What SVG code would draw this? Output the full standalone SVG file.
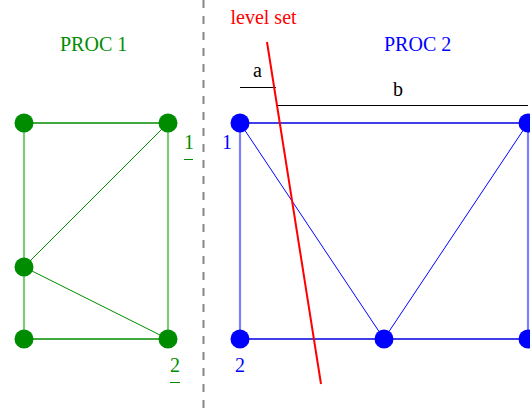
<svg xmlns="http://www.w3.org/2000/svg" width="530" height="412" viewBox="0 0 530 412">
<style>
text{font-family:"Liberation Serif","Times New Roman",serif;font-size:20px}
.g{fill:#008c00}
.b{fill:#0000ff}
.k{fill:#000}
.r{fill:#ff0000}
.gh{stroke:#008c00;stroke-width:1.3}
.gv{stroke:#7ccc7c;stroke-width:2.2}
.gd{stroke:#008c00;stroke-width:1}
.bh{stroke:#0000e0;stroke-width:1.5}
.bv{stroke:#7f7fff;stroke-width:2.2}
.bd{stroke:#0000ff;stroke-width:1}
.ng{fill:#008c00}
.nb{fill:#0000ff}
</style>
<rect width="530" height="412" fill="#fff"/>
<line x1="203.5" y1="0" x2="203.5" y2="412" stroke="#888" stroke-width="2" stroke-dasharray="8,8"/>
<g id="connectors" fill="none">
<line class="gh" x1="24" y1="123" x2="168" y2="123"/>
<line class="gh" x1="24" y1="339" x2="168" y2="339"/>
<line class="gv" x1="24" y1="123" x2="24" y2="339"/>
<line class="gv" x1="168" y1="123" x2="168" y2="339"/>
<line class="gd" x1="24" y1="267" x2="168" y2="123"/>
<line class="gd" x1="24" y1="267" x2="168" y2="339"/>
<line class="bh" x1="240" y1="123" x2="528" y2="123"/>
<line class="bh" x1="240" y1="339" x2="528" y2="339"/>
<line class="bv" x1="240" y1="123" x2="240" y2="339"/>
<line class="bv" x1="528" y1="123" x2="528" y2="339"/>
<line class="bd" x1="240" y1="123" x2="384" y2="339"/>
<line class="bd" x1="384" y1="339" x2="528" y2="123"/>
</g>
<g id="n1"><circle class="ng" cx="24" cy="123" r="9.5"/></g>
<g id="n2"><circle class="ng" cx="168" cy="123" r="9.5"/></g>
<g id="n3"><circle class="ng" cx="24" cy="267" r="9.5"/></g>
<g id="n4"><circle class="ng" cx="24" cy="339" r="9.5"/></g>
<g id="n5"><circle class="ng" cx="168" cy="339" r="9.5"/></g>
<g id="n6"><circle class="nb" cx="240" cy="123" r="9.5"/></g>
<g id="n7"><circle class="nb" cx="528" cy="123" r="9.5"/></g>
<g id="n8"><circle class="nb" cx="240" cy="339" r="9.5"/></g>
<g id="n9"><circle class="nb" cx="384" cy="339" r="9.5"/></g>
<g id="n10"><circle class="nb" cx="528" cy="339" r="9.5"/></g>
<g id="measures">
<line x1="240" y1="87.5" x2="276" y2="87.5" stroke="#000" stroke-width="1"/>
<line x1="277" y1="105.5" x2="528" y2="105.5" stroke="#000" stroke-width="1"/>
<text class="k" x="253" y="77" font-size="18">a</text>
<text class="k" x="393" y="96" font-size="18">b</text>
</g>
<g id="levelset">
<line x1="267" y1="42" x2="321" y2="384" stroke="#ff0000" stroke-width="2"/>
<text class="r" x="230.5" y="24" font-size="21">level set</text>
</g>
<text class="g" x="60" y="51" font-size="20.5">PROC 1</text>
<text class="b" x="384" y="51" font-size="20.5">PROC 2</text>
<text class="g" x="184" y="149" font-size="18">1</text>
<line x1="184" y1="159.5" x2="193" y2="159.5" stroke="#008c00" stroke-width="1"/>
<text class="b" x="222" y="149" font-size="18">1</text>
<text class="g" x="170" y="372" font-size="18">2</text>
<line x1="170" y1="382.5" x2="180" y2="382.5" stroke="#008c00" stroke-width="1"/>
<text class="b" x="235" y="372" font-size="18">2</text>
</svg>
